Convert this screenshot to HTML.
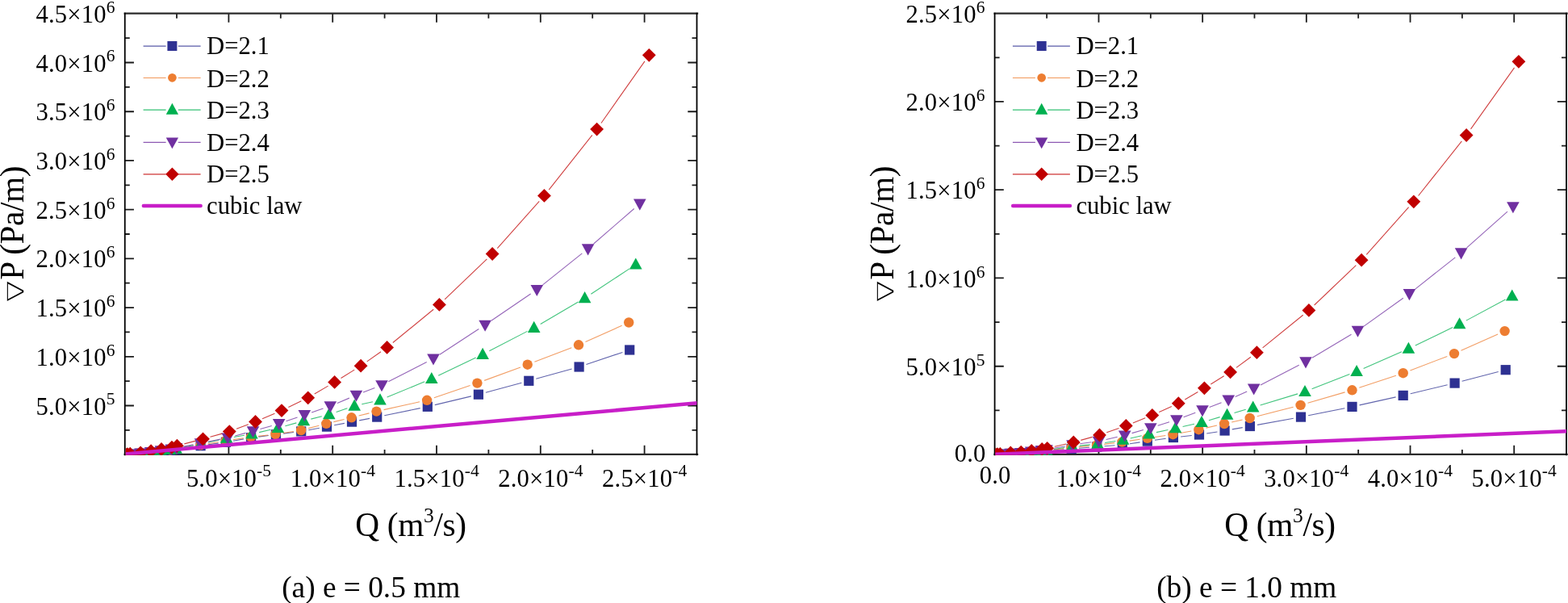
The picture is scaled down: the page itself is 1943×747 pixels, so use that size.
<!DOCTYPE html>
<html lang="en">
<head>
<meta charset="utf-8">
<title>Pressure gradient versus flow rate</title>
<style>
html,body{margin:0;padding:0;background:#fff;}
body{width:1943px;height:747px;overflow:hidden;}
svg{display:block;}
svg text{font-family:"Liberation Serif", "DejaVu Serif", serif;fill:#000;}
</style>
</head>
<body>
<svg width="1943" height="747" viewBox="0 0 1943 747">
<rect width="1943" height="747" fill="#fff"/>
<path d="M219 563 v-6 M219 16.65 v6 M283.4 563 v-11.2 M283.4 16.65 v11.2 M347.8 563 v-6 M347.8 16.65 v6 M412.2 563 v-11.2 M412.2 16.65 v11.2 M476.6 563 v-6 M476.6 16.65 v6 M541 563 v-11.2 M541 16.65 v11.2 M605.4 563 v-6 M605.4 16.65 v6 M669.8 563 v-11.2 M669.8 16.65 v11.2 M734.2 563 v-6 M734.2 16.65 v6 M798.6 563 v-11.2 M798.6 16.65 v11.2 M154.75 532.85 h6 M863.5 532.85 h-6 M154.75 502.49 h11.2 M863.5 502.49 h-11.2 M154.75 472.14 h6 M863.5 472.14 h-6 M154.75 441.78 h11.2 M863.5 441.78 h-11.2 M154.75 411.43 h6 M863.5 411.43 h-6 M154.75 381.07 h11.2 M863.5 381.07 h-11.2 M154.75 350.72 h6 M863.5 350.72 h-6 M154.75 320.36 h11.2 M863.5 320.36 h-11.2 M154.75 290.01 h6 M863.5 290.01 h-6 M154.75 259.65 h11.2 M863.5 259.65 h-11.2 M154.75 229.3 h6 M863.5 229.3 h-6 M154.75 198.94 h11.2 M863.5 198.94 h-11.2 M154.75 168.59 h6 M863.5 168.59 h-6 M154.75 138.23 h11.2 M863.5 138.23 h-11.2 M154.75 107.88 h6 M863.5 107.88 h-6 M154.75 77.52 h11.2 M863.5 77.52 h-11.2 M154.75 47.17 h6 M863.5 47.17 h-6" stroke="#1c1c1c" stroke-width="1.8" fill="none"/>
<path d="M154.75 16.65 H864.1 M154.75 562.8 H864.1" stroke="#2b2b2b" stroke-width="2.2" stroke-linecap="square" fill="none"/>
<path d="M154.75 16.65 V563.4 M863.5 16.65 V563.4" stroke="#000" stroke-width="1.8" stroke-linecap="square" fill="none"/>
<g font-size="30.67" letter-spacing="0.15">
<text x="283.6" y="602.5" text-anchor="middle">5.0×10<tspan dy="-12.2" font-size="21.5">-5</tspan></text>
<text x="412.4" y="602.5" text-anchor="middle">1.0×10<tspan dy="-12.2" font-size="21.5">-4</tspan></text>
<text x="541.2" y="602.5" text-anchor="middle">1.5×10<tspan dy="-12.2" font-size="21.5">-4</tspan></text>
<text x="670" y="602.5" text-anchor="middle">2.0×10<tspan dy="-12.2" font-size="21.5">-4</tspan></text>
<text x="798.8" y="602.5" text-anchor="middle">2.5×10<tspan dy="-12.2" font-size="21.5">-4</tspan></text>
<text x="142.6" y="513.59" text-anchor="end">5.0×10<tspan dy="-12.2" font-size="21.5">5</tspan></text>
<text x="142.6" y="452.88" text-anchor="end">1.0×10<tspan dy="-12.2" font-size="21.5">6</tspan></text>
<text x="142.6" y="392.17" text-anchor="end">1.5×10<tspan dy="-12.2" font-size="21.5">6</tspan></text>
<text x="142.6" y="331.46" text-anchor="end">2.0×10<tspan dy="-12.2" font-size="21.5">6</tspan></text>
<text x="142.6" y="270.75" text-anchor="end">2.5×10<tspan dy="-12.2" font-size="21.5">6</tspan></text>
<text x="142.6" y="210.04" text-anchor="end">3.0×10<tspan dy="-12.2" font-size="21.5">6</tspan></text>
<text x="142.6" y="149.33" text-anchor="end">3.5×10<tspan dy="-12.2" font-size="21.5">6</tspan></text>
<text x="142.6" y="88.62" text-anchor="end">4.0×10<tspan dy="-12.2" font-size="21.5">6</tspan></text>
<text x="142.6" y="27.91" text-anchor="end">4.5×10<tspan dy="-12.2" font-size="21.5">6</tspan></text>
</g>
<text x="509" y="664.2" text-anchor="middle" font-size="41.33" letter-spacing="-0.36">Q (m<tspan dy="-17.5" font-size="25.5">3</tspan><tspan dy="17.5">/s)</tspan></text>
<text transform="translate(28.8 374.2) rotate(-90) scale(1.4 1)" font-family="&quot;DejaVu Sans&quot;, sans-serif" font-weight="200" font-size="28" style="font-family:'DejaVu Sans',sans-serif">∇</text>
<text transform="translate(28.8 346.7) rotate(-90)" font-size="41.33" letter-spacing="-0.45">P (Pa/m)</text>
<text x="459.7" y="739.5" text-anchor="middle" font-size="37.33" fill="#1a1a1a">(a) e = 0.5 mm</text>
<clipPath id="ca"><rect x="155.85" y="17.75" width="707.65" height="546.05"/></clipPath>
<g clip-path="url(#ca)">
<path d="M226.53 555.63 L239.41 553.63 M257.81 550.91 L270.69 549.09 M289.06 546.19 L301.94 543.91 M320.32 541.1 L332.68 539.5 M351.13 537.15 L363.97 535.55 M382.35 532.73 L395.85 530.27 M414.13 526.83 L426.87 524.37 M445.13 520.84 L458.07 518.36 M476.31 514.74 L520.69 505.66 M538.84 501.64 L583.86 490.86 M601.88 486.27 L646.32 474.23 M664.26 469.31 L708.64 456.99 M726.42 451.54 L771.38 436.46" stroke="#2E3192" stroke-width="1.1" stroke-opacity="0.75" fill="none"/>
<rect x="149.64" y="556.84" width="12.2" height="12.2" fill="#2E3192"/><rect x="151.83" y="556.7" width="12.2" height="12.2" fill="#2E3192"/><rect x="154.95" y="556.5" width="12.2" height="12.2" fill="#2E3192"/><rect x="167.46" y="555.69" width="12.2" height="12.2" fill="#2E3192"/><rect x="179.97" y="554.53" width="12.2" height="12.2" fill="#2E3192"/><rect x="192.48" y="553.32" width="12.2" height="12.2" fill="#2E3192"/><rect x="204.99" y="552.06" width="12.2" height="12.2" fill="#2E3192"/><rect x="211.24" y="550.96" width="12.2" height="12.2" fill="#2E3192"/><rect x="242.5" y="546.1" width="12.2" height="12.2" fill="#2E3192"/><rect x="273.8" y="541.7" width="12.2" height="12.2" fill="#2E3192"/><rect x="305" y="536.2" width="12.2" height="12.2" fill="#2E3192"/><rect x="335.8" y="532.2" width="12.2" height="12.2" fill="#2E3192"/><rect x="367.1" y="528.3" width="12.2" height="12.2" fill="#2E3192"/><rect x="398.9" y="522.5" width="12.2" height="12.2" fill="#2E3192"/><rect x="429.9" y="516.5" width="12.2" height="12.2" fill="#2E3192"/><rect x="461.1" y="510.5" width="12.2" height="12.2" fill="#2E3192"/><rect x="523.7" y="497.7" width="12.2" height="12.2" fill="#2E3192"/><rect x="586.8" y="482.6" width="12.2" height="12.2" fill="#2E3192"/><rect x="649.2" y="465.7" width="12.2" height="12.2" fill="#2E3192"/><rect x="711.5" y="448.4" width="12.2" height="12.2" fill="#2E3192"/><rect x="774.1" y="427.4" width="12.2" height="12.2" fill="#2E3192"/>
<path d="M226.43 554.99 L239.33 552.83 M257.67 549.74 L270.53 547.56 M288.9 544.64 L301.7 542.76 M320.14 540.37 L332.16 539.03 M350.59 536.55 L363.91 534.45 M382.09 530.64 L395.31 527.16 M413.34 522.63 L426.56 519.47 M444.62 515.05 L457.48 511.85 M475.58 507.6 L520.02 497.8 M537.9 492.8 L582.6 477.6 M600.13 471.39 L644.97 454.91 M662.38 448.36 L708.32 430.64 M725.49 423.51 L770.71 403.29" stroke="#ED7D31" stroke-width="1.1" stroke-opacity="0.75" fill="none"/>
<circle cx="155.74" cy="562.93" r="6.2" fill="#ED7D31"/><circle cx="157.92" cy="562.78" r="6.2" fill="#ED7D31"/><circle cx="161.05" cy="562.56" r="6.2" fill="#ED7D31"/><circle cx="173.54" cy="561.68" r="6.2" fill="#ED7D31"/><circle cx="186.03" cy="560.42" r="6.2" fill="#ED7D31"/><circle cx="198.52" cy="559.1" r="6.2" fill="#ED7D31"/><circle cx="211.01" cy="557.72" r="6.2" fill="#ED7D31"/><circle cx="217.26" cy="556.52" r="6.2" fill="#ED7D31"/><circle cx="248.5" cy="551.3" r="6.2" fill="#ED7D31"/><circle cx="279.7" cy="546" r="6.2" fill="#ED7D31"/><circle cx="310.9" cy="541.4" r="6.2" fill="#ED7D31"/><circle cx="341.4" cy="538" r="6.2" fill="#ED7D31"/><circle cx="373.1" cy="533" r="6.2" fill="#ED7D31"/><circle cx="404.3" cy="524.8" r="6.2" fill="#ED7D31"/><circle cx="435.6" cy="517.3" r="6.2" fill="#ED7D31"/><circle cx="466.5" cy="509.6" r="6.2" fill="#ED7D31"/><circle cx="529.1" cy="495.8" r="6.2" fill="#ED7D31"/><circle cx="591.4" cy="474.6" r="6.2" fill="#ED7D31"/><circle cx="653.7" cy="451.7" r="6.2" fill="#ED7D31"/><circle cx="717" cy="427.3" r="6.2" fill="#ED7D31"/><circle cx="779.2" cy="399.5" r="6.2" fill="#ED7D31"/>
<path d="M227.23 554.08 L239.87 551.59 M258.09 547.85 L271.61 544.95 M289.87 541.45 L302.83 539.25 M321.06 535.6 L335.34 532.3 M353.37 527.73 L367.33 523.87 M385.31 519.11 L398.79 515.69 M416.62 510.45 L430.38 505.85 M448.26 500.82 L461.94 497.68 M479.6 492.06 L526.2 472.84 M543.19 465.3 L589.71 443.1 M606.35 434.82 L653.45 410.38 M669.73 401.41 L716.57 374.09 M732.37 364.29 L780.03 332.91" stroke="#00B050" stroke-width="1.1" stroke-opacity="0.75" fill="none"/>
<polygon points="155.75,554.63 163.55,568.73 147.95,568.73" fill="#00B050"/><polygon points="157.97,554.46 165.77,568.56 150.16,568.56" fill="#00B050"/><polygon points="161.13,554.22 168.93,568.32 153.33,568.32" fill="#00B050"/><polygon points="173.79,553.25 181.59,567.35 165.99,567.35" fill="#00B050"/><polygon points="186.45,551.86 194.25,565.96 178.65,565.96" fill="#00B050"/><polygon points="199.11,550.41 206.91,564.51 191.31,564.51" fill="#00B050"/><polygon points="211.77,548.89 219.57,562.99 203.97,562.99" fill="#00B050"/><polygon points="218.1,547.57 225.9,561.67 210.3,561.67" fill="#00B050"/><polygon points="249,541.5 256.8,555.6 241.2,555.6" fill="#00B050"/><polygon points="280.7,534.7 288.5,548.8 272.9,548.8" fill="#00B050"/><polygon points="312,529.4 319.8,543.5 304.2,543.5" fill="#00B050"/><polygon points="344.4,521.9 352.2,536 336.6,536" fill="#00B050"/><polygon points="376.3,513.1 384.1,527.2 368.5,527.2" fill="#00B050"/><polygon points="407.8,505.1 415.6,519.2 400,519.2" fill="#00B050"/><polygon points="439.2,494.6 447,508.7 431.4,508.7" fill="#00B050"/><polygon points="471,487.3 478.8,501.4 463.2,501.4" fill="#00B050"/><polygon points="534.8,461 542.6,475.1 527,475.1" fill="#00B050"/><polygon points="598.1,430.8 605.9,444.9 590.3,444.9" fill="#00B050"/><polygon points="661.7,397.8 669.5,411.9 653.9,411.9" fill="#00B050"/><polygon points="724.6,361.1 732.4,375.2 716.8,375.2" fill="#00B050"/><polygon points="787.8,319.5 795.6,333.6 780,333.6" fill="#00B050"/>
<path d="M227.72 553.1 L239.38 550.8 M257.62 547.19 L273.08 544.11 M291.19 539.92 L304.51 536.38 M322.45 531.47 L336.75 527.43 M354.48 521.84 L368.52 516.96 M386.11 510.93 L400.49 506.07 M417.86 499.47 L432.84 493.13 M450.05 486.08 L464.35 480.42 M481.28 472.77 L528.72 448.53 M544.79 439.22 L593.31 407.58 M608.78 397.26 L657.62 363.94 M672.56 352.89 L721.34 313.91 M735.62 302.01 L785.78 258.49" stroke="#7030A0" stroke-width="1.1" stroke-opacity="0.75" fill="none"/>
<polygon points="155.76,571.22 163.56,557.12 147.96,557.12" fill="#7030A0"/><polygon points="157.99,571.02 165.79,556.93 150.19,556.93" fill="#7030A0"/><polygon points="161.18,570.75 168.98,556.65 153.38,556.65" fill="#7030A0"/><polygon points="173.94,569.65 181.74,555.55 166.14,555.55" fill="#7030A0"/><polygon points="186.7,568.07 194.5,553.98 178.9,553.98" fill="#7030A0"/><polygon points="199.46,566.42 207.26,552.33 191.66,552.33" fill="#7030A0"/><polygon points="212.22,564.7 220.02,550.6 204.42,550.6" fill="#7030A0"/><polygon points="218.6,563.2 226.4,549.1 210.8,549.1" fill="#7030A0"/><polygon points="248.5,557.3 256.3,543.2 240.7,543.2" fill="#7030A0"/><polygon points="282.2,550.6 290,536.5 274.4,536.5" fill="#7030A0"/><polygon points="313.5,542.3 321.3,528.2 305.7,528.2" fill="#7030A0"/><polygon points="345.7,533.2 353.5,519.1 337.9,519.1" fill="#7030A0"/><polygon points="377.3,522.2 385.1,508.1 369.5,508.1" fill="#7030A0"/><polygon points="409.3,511.4 417.1,497.3 401.5,497.3" fill="#7030A0"/><polygon points="441.4,497.8 449.2,483.7 433.6,483.7" fill="#7030A0"/><polygon points="473,485.3 480.8,471.2 465.2,471.2" fill="#7030A0"/><polygon points="537,452.6 544.8,438.5 529.2,438.5" fill="#7030A0"/><polygon points="601.1,410.8 608.9,396.7 593.3,396.7" fill="#7030A0"/><polygon points="665.3,367 673.1,352.9 657.5,352.9" fill="#7030A0"/><polygon points="728.6,316.4 736.4,302.3 720.8,302.3" fill="#7030A0"/><polygon points="792.8,260.7 800.6,246.6 785,246.6" fill="#7030A0"/>
<path d="M228.4 549.85 L242.5 546.15 M260.45 541.29 L275.35 537.11 M293.01 531.33 L307.79 525.77 M325.05 518.84 L340.45 512.26 M357.37 504.55 L373.33 496.85 M389.71 488.08 L406.59 478.12 M422.5 468.49 L439.2 458.11 M454.71 447.86 L471.99 435.74 M486.8 424.51 L537.2 383.29 M551.12 370.97 L603.38 320.93 M616.29 307.56 L668.21 249.34 M680.18 235.11 L733.82 167.39 M744.96 152.5 L798.94 75.9" stroke="#C00000" stroke-width="1.1" stroke-opacity="0.75" fill="none"/>
<polygon points="155.77,554.49 164.17,562.89 155.77,571.29 147.37,562.89" fill="#C00000"/><polygon points="158.03,554.23 166.43,562.63 158.03,571.03 149.63,562.63" fill="#C00000"/><polygon points="161.26,553.87 169.66,562.27 161.26,570.67 152.86,562.27" fill="#C00000"/><polygon points="174.18,552.4 182.58,560.8 174.18,569.2 165.78,560.8" fill="#C00000"/><polygon points="187.1,550.3 195.5,558.7 187.1,567.1 178.7,558.7" fill="#C00000"/><polygon points="200.02,548.1 208.42,556.5 200.02,564.9 191.62,556.5" fill="#C00000"/><polygon points="212.94,545.8 221.34,554.2 212.94,562.6 204.54,554.2" fill="#C00000"/><polygon points="219.4,543.8 227.8,552.2 219.4,560.6 211,552.2" fill="#C00000"/><polygon points="251.5,535.4 259.9,543.8 251.5,552.2 243.1,543.8" fill="#C00000"/><polygon points="284.3,526.2 292.7,534.6 284.3,543 275.9,534.6" fill="#C00000"/><polygon points="316.5,514.1 324.9,522.5 316.5,530.9 308.1,522.5" fill="#C00000"/><polygon points="349,500.2 357.4,508.6 349,517 340.6,508.6" fill="#C00000"/><polygon points="381.7,484.4 390.1,492.8 381.7,501.2 373.3,492.8" fill="#C00000"/><polygon points="414.6,465 423,473.4 414.6,481.8 406.2,473.4" fill="#C00000"/><polygon points="447.1,444.8 455.5,453.2 447.1,461.6 438.7,453.2" fill="#C00000"/><polygon points="479.6,422 488,430.4 479.6,438.8 471.2,430.4" fill="#C00000"/><polygon points="544.4,369 552.8,377.4 544.4,385.8 536,377.4" fill="#C00000"/><polygon points="610.1,306.1 618.5,314.5 610.1,322.9 601.7,314.5" fill="#C00000"/><polygon points="674.4,234 682.8,242.4 674.4,250.8 666,242.4" fill="#C00000"/><polygon points="739.6,151.7 748,160.1 739.6,168.5 731.2,160.1" fill="#C00000"/><polygon points="804.3,59.9 812.7,68.3 804.3,76.7 795.9,68.3" fill="#C00000"/>
<path d="M150 562.95 L870 498.75" stroke="#C81EC8" stroke-width="4.5" fill="none"/>
</g>
<g font-size="30.67">
<path d="M177.6 57.2 H205.6 M220.8 57.2 H248.6" stroke="#2E3192" stroke-width="1.2" stroke-opacity="0.8" fill="none"/>
<rect x="207.42" y="51.02" width="11.96" height="11.96" fill="#2E3192"/>
<text x="256.1" y="67">D=2.1</text>
<path d="M177.6 96.5 H205.6 M220.8 96.5 H248.6" stroke="#ED7D31" stroke-width="1.2" stroke-opacity="0.8" fill="none"/>
<circle cx="213.4" cy="96.3" r="5.33" fill="#ED7D31"/>
<text x="256.1" y="107.5">D=2.2</text>
<path d="M177.6 136.2 H205.6 M220.8 136.2 H248.6" stroke="#00B050" stroke-width="1.2" stroke-opacity="0.8" fill="none"/>
<polygon points="213.4,127.87 221.04,141.68 205.76,141.68" fill="#00B050"/>
<text x="256.1" y="146.9">D=2.3</text>
<path d="M177.6 176.4 H205.6 M220.8 176.4 H248.6" stroke="#7030A0" stroke-width="1.2" stroke-opacity="0.8" fill="none"/>
<polygon points="213.4,184.33 221.04,170.52 205.76,170.52" fill="#7030A0"/>
<text x="256.1" y="186.6">D=2.4</text>
<path d="M177.6 215.9 H205.6 M220.8 215.9 H248.6" stroke="#C00000" stroke-width="1.2" stroke-opacity="0.8" fill="none"/>
<polygon points="213.4,207.47 221.63,215.7 213.4,223.93 205.17,215.7" fill="#C00000"/>
<text x="256.1" y="225.8">D=2.5</text>
<path d="M177.9 255 H248.6" stroke="#C81EC8" stroke-width="4.6" stroke-linecap="round" fill="none"/>
<text x="256.1" y="264.8">cubic law</text>
</g>
<path d="M1297.14 563 v-6 M1297.14 16.65 v6 M1361.48 563 v-11.2 M1361.48 16.65 v11.2 M1425.82 563 v-6 M1425.82 16.65 v6 M1490.16 563 v-11.2 M1490.16 16.65 v11.2 M1554.5 563 v-6 M1554.5 16.65 v6 M1618.84 563 v-11.2 M1618.84 16.65 v11.2 M1683.18 563 v-6 M1683.18 16.65 v6 M1747.52 563 v-11.2 M1747.52 16.65 v11.2 M1811.86 563 v-6 M1811.86 16.65 v6 M1876.2 563 v-11.2 M1876.2 16.65 v11.2 M1232.6 508.37 h6 M1941 508.37 h-6 M1232.6 453.73 h11.2 M1941 453.73 h-11.2 M1232.6 399.1 h6 M1941 399.1 h-6 M1232.6 344.46 h11.2 M1941 344.46 h-11.2 M1232.6 289.82 h6 M1941 289.82 h-6 M1232.6 235.19 h11.2 M1941 235.19 h-11.2 M1232.6 180.56 h6 M1941 180.56 h-6 M1232.6 125.92 h11.2 M1941 125.92 h-11.2 M1232.6 71.29 h6 M1941 71.29 h-6" stroke="#1c1c1c" stroke-width="1.8" fill="none"/>
<path d="M1232.6 16.65 H1941.6 M1232.6 562.8 H1941.6" stroke="#2b2b2b" stroke-width="2.2" stroke-linecap="square" fill="none"/>
<path d="M1232.6 16.65 V563.4 M1941 16.65 V563.4" stroke="#000" stroke-width="1.8" stroke-linecap="square" fill="none"/>
<g font-size="30.67" letter-spacing="0.15">
<text x="1233.2" y="598.7" text-anchor="middle">0.0</text>
<text x="1361.48" y="602.5" text-anchor="middle">1.0×10<tspan dy="-12.2" font-size="21.5">-4</tspan></text>
<text x="1490.16" y="602.5" text-anchor="middle">2.0×10<tspan dy="-12.2" font-size="21.5">-4</tspan></text>
<text x="1618.84" y="602.5" text-anchor="middle">3.0×10<tspan dy="-12.2" font-size="21.5">-4</tspan></text>
<text x="1747.52" y="602.5" text-anchor="middle">4.0×10<tspan dy="-12.2" font-size="21.5">-4</tspan></text>
<text x="1876.2" y="602.5" text-anchor="middle">5.0×10<tspan dy="-12.2" font-size="21.5">-4</tspan></text>
<text x="1221.6" y="572.1" text-anchor="end">0.0</text>
<text x="1220.6" y="465.03" text-anchor="end">5.0×10<tspan dy="-12.2" font-size="21.5">5</tspan></text>
<text x="1220.6" y="355.76" text-anchor="end">1.0×10<tspan dy="-12.2" font-size="21.5">6</tspan></text>
<text x="1220.6" y="246.49" text-anchor="end">1.5×10<tspan dy="-12.2" font-size="21.5">6</tspan></text>
<text x="1220.6" y="137.22" text-anchor="end">2.0×10<tspan dy="-12.2" font-size="21.5">6</tspan></text>
<text x="1220.6" y="27.95" text-anchor="end">2.5×10<tspan dy="-12.2" font-size="21.5">6</tspan></text>
</g>
<text x="1586" y="664.2" text-anchor="middle" font-size="41.33" letter-spacing="-0.36">Q (m<tspan dy="-17.5" font-size="25.5">3</tspan><tspan dy="17.5">/s)</tspan></text>
<text transform="translate(1106.8 374.2) rotate(-90) scale(1.4 1)" font-family="&quot;DejaVu Sans&quot;, sans-serif" font-weight="200" font-size="28" style="font-family:'DejaVu Sans',sans-serif">∇</text>
<text transform="translate(1106.8 346.7) rotate(-90)" font-size="41.33" letter-spacing="-0.45">P (Pa/m)</text>
<text x="1544.8" y="739.5" text-anchor="middle" font-size="37.33" fill="#1a1a1a">(b) e = 1.0 mm</text>
<clipPath id="cb"><rect x="1233.4" y="17.75" width="707.6" height="546.05"/></clipPath>
<g clip-path="url(#cb)">
<path d="M1305.36 557.95 L1318.44 556.81 M1336.97 555.27 L1350.03 554.23 M1368.57 552.76 L1381.53 551.74 M1400.01 549.69 L1412.59 547.91 M1431.01 545.28 L1444.69 543.32 M1463.15 540.99 L1476.75 539.51 M1495.19 537.05 L1508.41 534.95 M1526.76 531.89 L1539.74 529.61 M1558.05 526.35 L1602.85 518.25 M1621.12 514.78 L1666.38 505.72 M1684.58 501.89 L1729.62 491.91 M1747.74 487.73 L1793.56 476.77 M1811.6 472.26 L1856.7 460.54" stroke="#2E3192" stroke-width="1.1" stroke-opacity="0.75" fill="none"/>
<rect x="1227.65" y="556.85" width="12.2" height="12.2" fill="#2E3192"/><rect x="1229.87" y="556.72" width="12.2" height="12.2" fill="#2E3192"/><rect x="1233.03" y="556.53" width="12.2" height="12.2" fill="#2E3192"/><rect x="1245.69" y="555.8" width="12.2" height="12.2" fill="#2E3192"/><rect x="1258.35" y="555.3" width="12.2" height="12.2" fill="#2E3192"/><rect x="1271.01" y="554.37" width="12.2" height="12.2" fill="#2E3192"/><rect x="1283.67" y="553.27" width="12.2" height="12.2" fill="#2E3192"/><rect x="1290" y="552.66" width="12.2" height="12.2" fill="#2E3192"/><rect x="1321.6" y="549.9" width="12.2" height="12.2" fill="#2E3192"/><rect x="1353.2" y="547.4" width="12.2" height="12.2" fill="#2E3192"/><rect x="1384.7" y="544.9" width="12.2" height="12.2" fill="#2E3192"/><rect x="1415.7" y="540.5" width="12.2" height="12.2" fill="#2E3192"/><rect x="1447.8" y="535.9" width="12.2" height="12.2" fill="#2E3192"/><rect x="1479.9" y="532.4" width="12.2" height="12.2" fill="#2E3192"/><rect x="1511.5" y="527.4" width="12.2" height="12.2" fill="#2E3192"/><rect x="1542.8" y="521.9" width="12.2" height="12.2" fill="#2E3192"/><rect x="1605.9" y="510.5" width="12.2" height="12.2" fill="#2E3192"/><rect x="1669.4" y="497.8" width="12.2" height="12.2" fill="#2E3192"/><rect x="1732.6" y="483.8" width="12.2" height="12.2" fill="#2E3192"/><rect x="1796.5" y="468.5" width="12.2" height="12.2" fill="#2E3192"/><rect x="1859.6" y="452.1" width="12.2" height="12.2" fill="#2E3192"/>
<path d="M1305.23 557.24 L1318.27 555.64 M1336.76 553.62 L1349.74 552.38 M1368.23 550.33 L1381.27 548.67 M1399.7 546.15 L1412.6 544.25 M1431 541.54 L1444.3 539.56 M1462.64 536.48 L1476.26 533.92 M1494.47 530.14 L1508.03 527.06 M1526.18 522.99 L1539.62 520.01 M1557.71 515.69 L1602.59 504.21 M1620.53 499.3 L1666.57 485.9 M1684.32 480.35 L1729.88 465.15 M1747.39 458.89 L1793.31 441.41 M1810.49 434.3 L1856.11 413.9" stroke="#ED7D31" stroke-width="1.1" stroke-opacity="0.75" fill="none"/>
<circle cx="1233.75" cy="562.94" r="6.2" fill="#ED7D31"/><circle cx="1235.96" cy="562.8" r="6.2" fill="#ED7D31"/><circle cx="1239.12" cy="562.6" r="6.2" fill="#ED7D31"/><circle cx="1251.76" cy="561.8" r="6.2" fill="#ED7D31"/><circle cx="1264.4" cy="561.26" r="6.2" fill="#ED7D31"/><circle cx="1277.04" cy="560.24" r="6.2" fill="#ED7D31"/><circle cx="1289.68" cy="559.04" r="6.2" fill="#ED7D31"/><circle cx="1296" cy="558.38" r="6.2" fill="#ED7D31"/><circle cx="1327.5" cy="554.5" r="6.2" fill="#ED7D31"/><circle cx="1359" cy="551.5" r="6.2" fill="#ED7D31"/><circle cx="1390.5" cy="547.5" r="6.2" fill="#ED7D31"/><circle cx="1421.8" cy="542.9" r="6.2" fill="#ED7D31"/><circle cx="1453.5" cy="538.2" r="6.2" fill="#ED7D31"/><circle cx="1485.4" cy="532.2" r="6.2" fill="#ED7D31"/><circle cx="1517.1" cy="525" r="6.2" fill="#ED7D31"/><circle cx="1548.7" cy="518" r="6.2" fill="#ED7D31"/><circle cx="1611.6" cy="501.9" r="6.2" fill="#ED7D31"/><circle cx="1675.5" cy="483.3" r="6.2" fill="#ED7D31"/><circle cx="1738.7" cy="462.2" r="6.2" fill="#ED7D31"/><circle cx="1802" cy="438.1" r="6.2" fill="#ED7D31"/><circle cx="1864.6" cy="410.1" r="6.2" fill="#ED7D31"/>
<path d="M1305.99 556.49 L1319.31 554.43 M1337.76 552.12 L1350.74 550.88 M1369.19 548.55 L1382.41 546.45 M1400.66 542.92 L1414.74 539.68 M1432.89 535.63 L1447.41 532.47 M1465.58 528.49 L1479.92 525.31 M1497.92 520.67 L1511.68 516.63 M1529.53 511.41 L1543.77 507.29 M1561.6 502 L1608.1 487.9 M1625.66 481.82 L1672.44 463.58 M1689.62 456.46 L1736.88 435.74 M1753.78 427.96 L1800.22 405.54 M1816.8 397.12 L1865.5 371.08" stroke="#00B050" stroke-width="1.1" stroke-opacity="0.75" fill="none"/>
<polygon points="1233.76,554.63 1241.56,568.73 1225.96,568.73" fill="#00B050"/><polygon points="1236,554.48 1243.8,568.58 1228.2,568.58" fill="#00B050"/><polygon points="1239.2,554.26 1247,568.36 1231.4,568.36" fill="#00B050"/><polygon points="1252,553.38 1259.8,567.48 1244.2,567.48" fill="#00B050"/><polygon points="1264.8,552.79 1272.6,566.89 1257,566.89" fill="#00B050"/><polygon points="1277.6,551.66 1285.4,565.76 1269.8,565.76" fill="#00B050"/><polygon points="1290.4,550.34 1298.2,564.44 1282.6,564.44" fill="#00B050"/><polygon points="1296.8,549.62 1304.6,563.72 1289,563.72" fill="#00B050"/><polygon points="1328.5,544.7 1336.3,558.8 1320.7,558.8" fill="#00B050"/><polygon points="1360,541.7 1367.8,555.8 1352.2,555.8" fill="#00B050"/><polygon points="1391.6,536.7 1399.4,550.8 1383.8,550.8" fill="#00B050"/><polygon points="1423.8,529.3 1431.6,543.4 1416,543.4" fill="#00B050"/><polygon points="1456.5,522.2 1464.3,536.3 1448.7,536.3" fill="#00B050"/><polygon points="1489,515 1496.8,529.1 1481.2,529.1" fill="#00B050"/><polygon points="1520.6,505.7 1528.4,519.8 1512.8,519.8" fill="#00B050"/><polygon points="1552.7,496.4 1560.5,510.5 1544.9,510.5" fill="#00B050"/><polygon points="1617,476.9 1624.8,491 1609.2,491" fill="#00B050"/><polygon points="1681.1,451.9 1688.9,466 1673.3,466" fill="#00B050"/><polygon points="1745.4,423.7 1753.2,437.8 1737.6,437.8" fill="#00B050"/><polygon points="1808.6,393.2 1816.4,407.3 1800.8,407.3" fill="#00B050"/><polygon points="1873.7,358.4 1881.5,372.5 1865.9,372.5" fill="#00B050"/>
<path d="M1306.14 555.28 L1319.86 552.71 M1338.21 549.72 L1352.29 547.78 M1370.57 544.44 L1384.63 541.26 M1402.64 536.64 L1416.86 532.56 M1434.68 527.23 L1449.02 522.77 M1466.61 516.74 L1481.29 511.26 M1498.65 504.59 L1513.55 498.71 M1530.69 491.5 L1545.21 485 M1561.97 476.94 L1609.73 452.36 M1625.98 443.32 L1674.52 414.28 M1690.07 404.1 L1738.83 369.3 M1753.69 358.13 L1803.31 318.87 M1817.55 306.92 L1867.95 262.18" stroke="#7030A0" stroke-width="1.1" stroke-opacity="0.75" fill="none"/>
<polygon points="1233.76,571.22 1241.56,557.12 1225.96,557.12" fill="#7030A0"/><polygon points="1236.01,571.04 1243.81,556.94 1228.21,556.94" fill="#7030A0"/><polygon points="1239.22,570.78 1247.02,556.68 1231.42,556.68" fill="#7030A0"/><polygon points="1252.06,569.74 1259.86,555.64 1244.26,555.64" fill="#7030A0"/><polygon points="1264.9,569.04 1272.7,554.94 1257.1,554.94" fill="#7030A0"/><polygon points="1277.74,567.71 1285.54,553.61 1269.94,553.61" fill="#7030A0"/><polygon points="1290.58,566.15 1298.38,552.05 1282.78,552.05" fill="#7030A0"/><polygon points="1297,565.29 1304.8,551.19 1289.2,551.19" fill="#7030A0"/><polygon points="1329,559.3 1336.8,545.2 1321.2,545.2" fill="#7030A0"/><polygon points="1361.5,554.8 1369.3,540.7 1353.7,540.7" fill="#7030A0"/><polygon points="1393.7,547.5 1401.5,533.4 1385.9,533.4" fill="#7030A0"/><polygon points="1425.8,538.3 1433.6,524.2 1418,524.2" fill="#7030A0"/><polygon points="1457.9,528.3 1465.7,514.2 1450.1,514.2" fill="#7030A0"/><polygon points="1490,516.3 1497.8,502.2 1482.2,502.2" fill="#7030A0"/><polygon points="1522.2,503.6 1530,489.5 1514.4,489.5" fill="#7030A0"/><polygon points="1553.7,489.5 1561.5,475.4 1545.9,475.4" fill="#7030A0"/><polygon points="1618,456.4 1625.8,442.3 1610.2,442.3" fill="#7030A0"/><polygon points="1682.5,417.8 1690.3,403.7 1674.7,403.7" fill="#7030A0"/><polygon points="1746.4,372.2 1754.2,358.1 1738.6,358.1" fill="#7030A0"/><polygon points="1810.6,321.4 1818.4,307.3 1802.8,307.3" fill="#7030A0"/><polygon points="1874.9,264.3 1882.7,250.2 1867.1,250.2" fill="#7030A0"/>
<path d="M1306.77 553.24 L1321.23 549.96 M1339.26 545.4 L1353.54 541.4 M1371.28 535.82 L1386.52 530.48 M1403.93 523.95 L1419.17 517.85 M1436.27 510.57 L1451.83 503.53 M1468.31 494.98 L1484.39 485.52 M1500.31 475.91 L1516.69 465.79 M1532.08 455.38 L1549.92 442.22 M1564.62 430.84 L1614.68 390.26 M1628.63 377.98 L1680.37 328.62 M1693.3 315.27 L1745.6 256.73 M1757.58 242.51 L1811.32 174.79 M1822.49 159.92 L1876.51 83.88" stroke="#C00000" stroke-width="1.1" stroke-opacity="0.75" fill="none"/>
<polygon points="1233.77,554.5 1242.17,562.9 1233.77,571.3 1225.37,562.9" fill="#C00000"/><polygon points="1236.04,554.27 1244.44,562.67 1236.04,571.07 1227.64,562.67" fill="#C00000"/><polygon points="1239.29,553.93 1247.69,562.33 1239.29,570.73 1230.89,562.33" fill="#C00000"/><polygon points="1252.27,552.6 1260.67,561 1252.27,569.4 1243.87,561" fill="#C00000"/><polygon points="1265.25,551.7 1273.65,560.1 1265.25,568.5 1256.85,560.1" fill="#C00000"/><polygon points="1278.23,550 1286.63,558.4 1278.23,566.8 1269.83,558.4" fill="#C00000"/><polygon points="1291.21,548 1299.61,556.4 1291.21,564.8 1282.81,556.4" fill="#C00000"/><polygon points="1297.7,546.9 1306.1,555.3 1297.7,563.7 1289.3,555.3" fill="#C00000"/><polygon points="1330.3,539.5 1338.7,547.9 1330.3,556.3 1321.9,547.9" fill="#C00000"/><polygon points="1362.5,530.5 1370.9,538.9 1362.5,547.3 1354.1,538.9" fill="#C00000"/><polygon points="1395.3,519 1403.7,527.4 1395.3,535.8 1386.9,527.4" fill="#C00000"/><polygon points="1427.8,506 1436.2,514.4 1427.8,522.8 1419.4,514.4" fill="#C00000"/><polygon points="1460.3,491.3 1468.7,499.7 1460.3,508.1 1451.9,499.7" fill="#C00000"/><polygon points="1492.4,472.4 1500.8,480.8 1492.4,489.2 1484,480.8" fill="#C00000"/><polygon points="1524.6,452.5 1533,460.9 1524.6,469.3 1516.2,460.9" fill="#C00000"/><polygon points="1557.4,428.3 1565.8,436.7 1557.4,445.1 1549,436.7" fill="#C00000"/><polygon points="1621.9,376 1630.3,384.4 1621.9,392.8 1613.5,384.4" fill="#C00000"/><polygon points="1687.1,313.8 1695.5,322.2 1687.1,330.6 1678.7,322.2" fill="#C00000"/><polygon points="1751.8,241.4 1760.2,249.8 1751.8,258.2 1743.4,249.8" fill="#C00000"/><polygon points="1817.1,159.1 1825.5,167.5 1817.1,175.9 1808.7,167.5" fill="#C00000"/><polygon points="1881.9,67.9 1890.3,76.3 1881.9,84.7 1873.5,76.3" fill="#C00000"/>
<path d="M1228 563.05 L1946 534" stroke="#C81EC8" stroke-width="4.5" fill="none"/>
</g>
<g font-size="30.67">
<path d="M1254.9 57.2 H1282.9 M1298.1 57.2 H1325.9" stroke="#2E3192" stroke-width="1.2" stroke-opacity="0.8" fill="none"/>
<rect x="1284.72" y="51.02" width="11.96" height="11.96" fill="#2E3192"/>
<text x="1333.4" y="67">D=2.1</text>
<path d="M1254.9 96.5 H1282.9 M1298.1 96.5 H1325.9" stroke="#ED7D31" stroke-width="1.2" stroke-opacity="0.8" fill="none"/>
<circle cx="1290.7" cy="96.3" r="5.33" fill="#ED7D31"/>
<text x="1333.4" y="107.5">D=2.2</text>
<path d="M1254.9 136.2 H1282.9 M1298.1 136.2 H1325.9" stroke="#00B050" stroke-width="1.2" stroke-opacity="0.8" fill="none"/>
<polygon points="1290.7,127.87 1298.34,141.68 1283.06,141.68" fill="#00B050"/>
<text x="1333.4" y="146.9">D=2.3</text>
<path d="M1254.9 176.4 H1282.9 M1298.1 176.4 H1325.9" stroke="#7030A0" stroke-width="1.2" stroke-opacity="0.8" fill="none"/>
<polygon points="1290.7,184.33 1298.34,170.52 1283.06,170.52" fill="#7030A0"/>
<text x="1333.4" y="186.6">D=2.4</text>
<path d="M1254.9 215.9 H1282.9 M1298.1 215.9 H1325.9" stroke="#C00000" stroke-width="1.2" stroke-opacity="0.8" fill="none"/>
<polygon points="1290.7,207.47 1298.93,215.7 1290.7,223.93 1282.47,215.7" fill="#C00000"/>
<text x="1333.4" y="225.8">D=2.5</text>
<path d="M1255.2 255 H1325.9" stroke="#C81EC8" stroke-width="4.6" stroke-linecap="round" fill="none"/>
<text x="1333.4" y="264.8">cubic law</text>
</g>
</svg>
</body>
</html>
